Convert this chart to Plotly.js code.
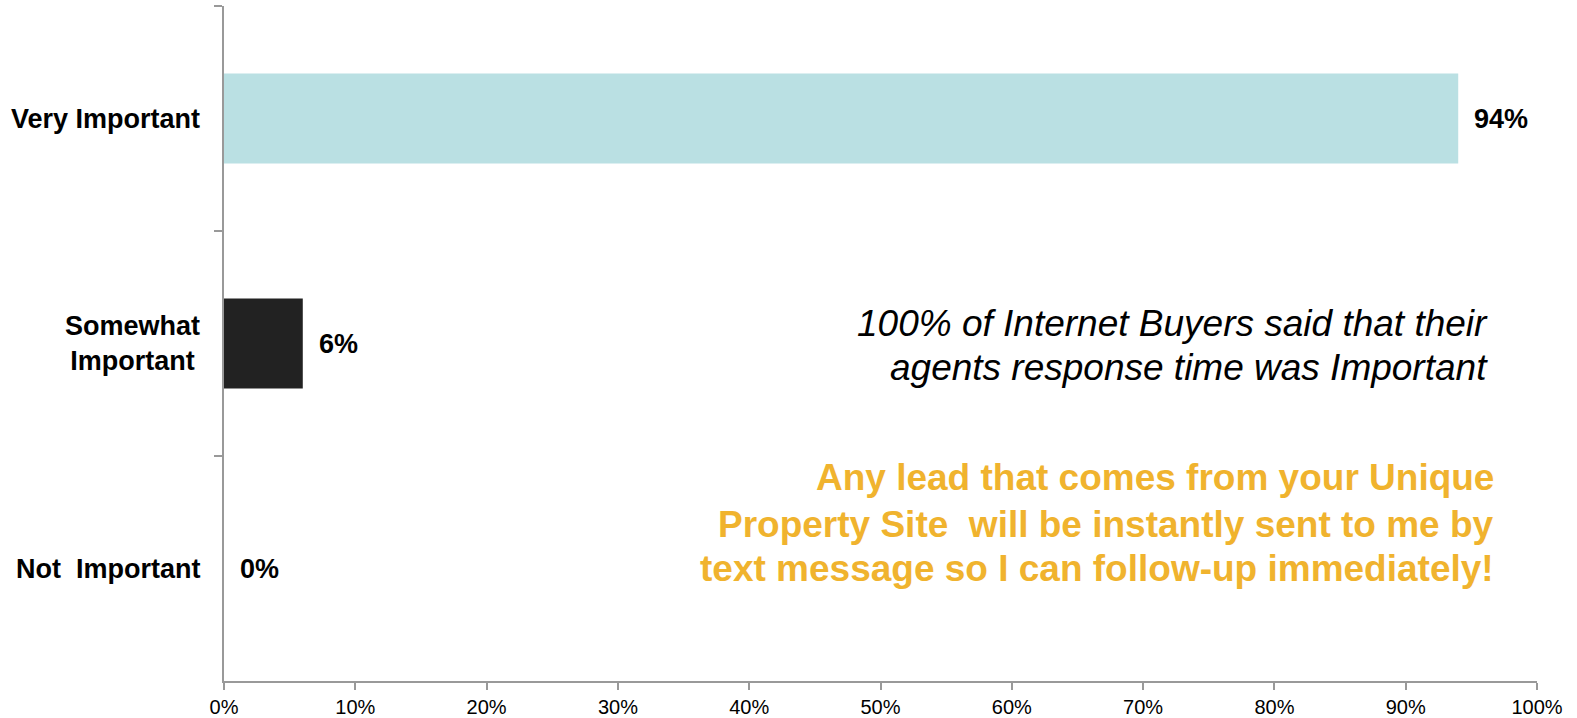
<!DOCTYPE html>
<html>
<head>
<meta charset="utf-8">
<script src="https://cdn.plot.ly/plotly-3.0.1.min.js"></script>
<style>html,body{margin:0;padding:0;background:#fff;}#chart{width:1577px;height:718px;}</style>
</head>
<body>
<div id="chart"></div>
<script>
const categories = ["Very Important", "Somewhat<br>Important", "Not\u00A0 Important"];
const values = [94, 6, 0];
const valueLabels = ["94%", "6%", "0%"];
const barColors = ["#BAE0E3", "#222222", "#222222"];
const xTickValues = [0, 10, 20, 30, 40, 50, 60, 70, 80, 90, 100];
const xTickLabels = ["0%", "10%", "20%", "30%", "40%", "50%", "60%", "70%", "80%", "90%", "100%"];
const noteLines = ["100% of Internet Buyers said that their", "agents response time was Important"];
const promoLines = ["Any lead that comes from your Unique", "Property Site\u00A0 will be instantly sent to me by", "text message so I can follow-up immediately!"];

const font = "Liberation Sans, Arial, sans-serif";

const trace = {
  type: "bar",
  orientation: "h",
  x: values,
  y: categories,
  marker: {color: barColors, line: {width: 0}},
  width: 0.4,
  hoverinfo: "none"
};

const L = 224, R = 40, T = 6, B = 37, W = 1577, H = 718;
const px = x => (x - L) / (W - L - R);
const py = y => 1 - (y - T) / (H - T - B);

const annotations = [];
categories.forEach((c, i) => {
  annotations.push({
    x: values[i], y: c, xref: "x", yref: "y",
    text: "<b>" + valueLabels[i] + "</b>",
    showarrow: false, xanchor: "left", yanchor: "middle", xshift: 14,
    font: {family: font, size: 27, color: "#000"}
  });
  annotations.push({
    x: 0, y: c, xref: "paper", yref: "y",
    text: "<b>" + c + "</b>",
    showarrow: false, xanchor: "right", yanchor: "middle", xshift: -22, align: "center",
    font: {family: font, size: 27, color: "#000"}
  });
});
const noteY = [324, 367];
noteLines.forEach((t, i) => annotations.push({
  x: px(1490), y: py(noteY[i]), xref: "paper", yref: "paper",
  text: "<i>" + t + "</i>",
  showarrow: false, xanchor: "right", yanchor: "middle",
  font: {family: font, size: 37, color: "#000"}
}));
const promoY = [477, 524, 568];
promoLines.forEach((t, i) => annotations.push({
  x: px(1496), y: py(promoY[i]), xref: "paper", yref: "paper",
  text: "<b>" + t + "</b>",
  showarrow: false, xanchor: "right", yanchor: "middle",
  font: {family: font, size: 37, color: "#F0B32E"}
}));

const layout = {
  width: W, height: H,
  margin: {l: L, r: R, t: T, b: B, pad: 0},
  paper_bgcolor: "#fff", plot_bgcolor: "#fff",
  showlegend: false,
  bargap: 0.6,
  xaxis: {
    range: [0, 100], tickvals: xTickValues, ticktext: xTickLabels,
    showgrid: false, zeroline: false,
    showline: true, linecolor: "#999", linewidth: 2,
    ticks: "outside", ticklen: 7, tickwidth: 2, tickcolor: "#999",
    tickfont: {family: font, size: 20, color: "#000"},
    fixedrange: true
  },
  yaxis: {
    autorange: "reversed", type: "category",
    showticklabels: false, showgrid: false, zeroline: false,
    showline: true, linecolor: "#999", linewidth: 2,
    ticks: "outside", ticklen: 8, tickwidth: 2, tickcolor: "#999",
    tickson: "boundaries",
    fixedrange: true
  },
  annotations: annotations
};

Plotly.newPlot("chart", [trace], layout, {displayModeBar: false, staticPlot: true});
</script>
</body>
</html>
